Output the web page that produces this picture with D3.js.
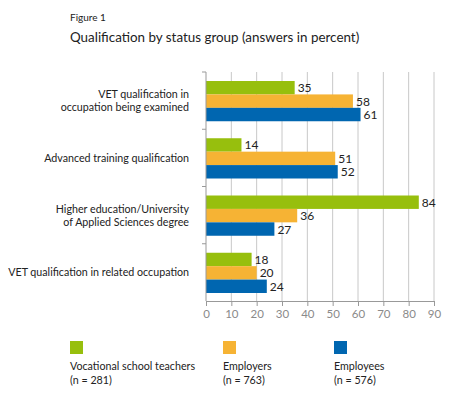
<!DOCTYPE html>
<html>
<head>
<meta charset="utf-8">
<script src="https://cdn.jsdelivr.net/npm/d3@7"></script>
<style>
body { margin: 0; background: #fff; }
text { font-family: Lato, sans-serif; }
</style>
</head>
<body>
<svg id="thesvg" width="450" height="398"></svg>
<script>
var categories = [
    ["VET qualification in", "occupation being examined"],
    ["Advanced training qualification"],
    ["Higher education/University", "of Applied Sciences degree"],
    ["VET qualification in related occupation"]
];
var series_names = ["Vocational school teachers", "Employers", "Employees"];
var series_n = ["(n = 281)", "(n = 763)", "(n = 576)"];
var teachers = [35, 14, 84, 18];
var employers = [58, 51, 36, 20];
var employees = [61, 52, 27, 24];
var x_ticks = [0, 10, 20, 30, 40, 50, 60, 70, 80, 90];
var colors = ["#97bf0d", "#f6b334", "#0066b0"];

var values = [teachers, employers, employees];
var svg = d3.select("#thesvg");

var x_left = 206, x_right = 434;
var y_top = 72, y_bottom = 301;

var xScale = d3.scaleLinear().domain([0, 90]).range([x_left, x_right]);
var yScale = d3.scaleBand().domain(d3.range(categories.length)).range([y_top, y_bottom]);
var inner = d3.scaleBand().domain(d3.range(values.length))
    .range([9, yScale.bandwidth() - 8]);

svg.append("text")
    .attr("x", 70).attr("y", 21)
    .style("font-size", "10px").style("fill", "#222")
    .text("Figure 1");
svg.append("text")
    .attr("x", 70).attr("y", 42)
    .style("font-size", "13.4px").style("fill", "#222")
    .text("Qualification by status group (answers in percent)");

// gridlines
svg.append("g").selectAll("line")
    .data(x_ticks.slice(1))
    .join("line")
    .attr("x1", d => xScale(d)).attr("x2", d => xScale(d))
    .attr("y1", y_top).attr("y2", y_bottom)
    .attr("stroke", "#c8c8c8").attr("stroke-width", 1);

// bars
for (let s = 0; s < values.length; s++) {
    svg.append("g").selectAll("rect")
        .data(values[s])
        .join("rect")
        .attr("x", xScale(0))
        .attr("y", (d, i) => yScale(i) + inner(s))
        .attr("width", d => xScale(d) - xScale(0))
        .attr("height", inner.bandwidth())
        .attr("fill", colors[s]);

    svg.append("g").selectAll("text")
        .data(values[s])
        .join("text")
        .attr("x", d => xScale(d) + 3)
        .attr("y", (d, i) => yScale(i) + inner(s) + inner.bandwidth() / 2 + 4.5)
        .style("font-size", "12px").style("fill", "#222")
        .text(d => d);
}

// axes
var xAxis = d3.axisBottom(xScale).tickValues(x_ticks).tickSize(5).tickPadding(4);
var gx = svg.append("g")
    .attr("transform", `translate(0, ${y_bottom})`)
    .call(xAxis);
gx.select(".domain").attr("stroke", "#999");
gx.selectAll(".tick line").attr("stroke", "#999");
gx.selectAll(".tick text").style("font-size", "11.5px").style("fill", "#8a8a8a")
    .style("font-family", "Lato, sans-serif");

var gy = svg.append("g");
gy.append("line")
    .attr("x1", x_left).attr("x2", x_left)
    .attr("y1", y_top).attr("y2", y_bottom)
    .attr("stroke", "#999");
gy.selectAll(".ytick")
    .data(d3.range(categories.length))
    .join("line")
    .attr("x1", x_left - 4).attr("x2", x_left)
    .attr("y1", d => yScale(d)).attr("y2", d => yScale(d))
    .attr("stroke", "#999");

// category labels
for (let i = 0; i < categories.length; i++) {
    var lines = categories[i];
    var cy = yScale(i) + yScale.bandwidth() / 2;
    var t = svg.append("text")
        .attr("text-anchor", "end")
        .style("font-size", "10.7px").style("fill", "#222");
    lines.forEach(function(l, k) {
        t.append("tspan")
            .attr("x", 189)
            .attr("y", cy + 4 + (k - (lines.length - 1) / 2) * 13)
            .text(l);
    });
}

// legend
var legend_x = [70, 223, 334];
for (let s = 0; s < series_names.length; s++) {
    svg.append("rect")
        .attr("x", legend_x[s]).attr("y", 341)
        .attr("width", 13).attr("height", 13)
        .attr("fill", colors[s]);
    svg.append("text")
        .attr("x", legend_x[s]).attr("y", 370)
        .style("font-size", "10.7px").style("fill", "#222")
        .text(series_names[s]);
    svg.append("text")
        .attr("x", legend_x[s]).attr("y", 384)
        .style("font-size", "10.7px").style("fill", "#222")
        .text(series_n[s]);
}
</script>
</body>
</html>
